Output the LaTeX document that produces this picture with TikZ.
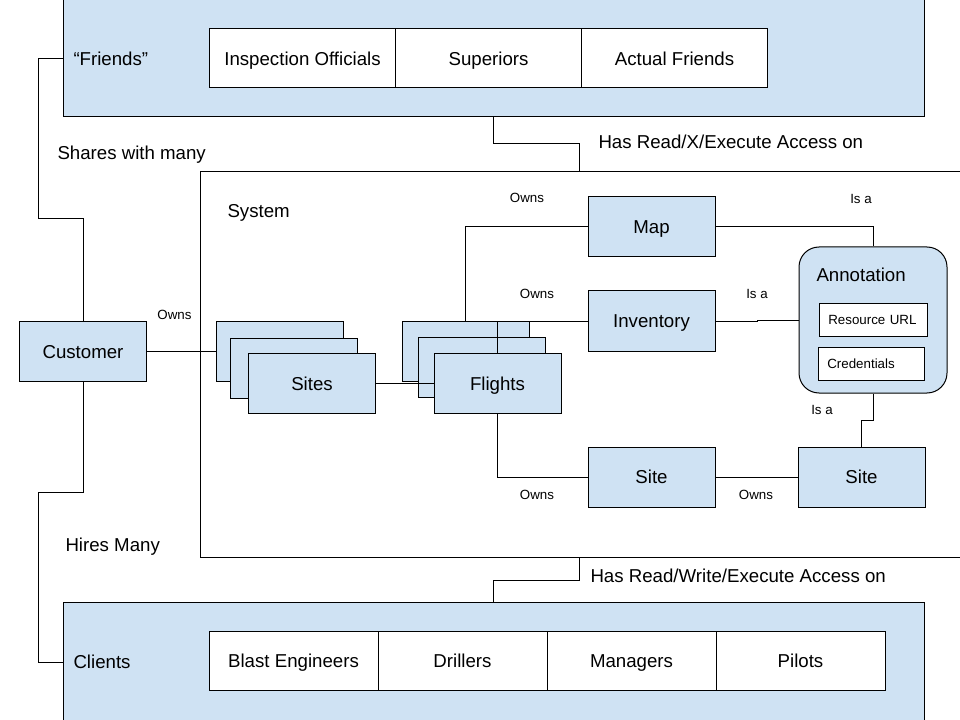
\documentclass[tikz,border=0pt]{standalone}
\usepackage{fontspec}
\setmainfont{Liberation Sans}
\usetikzlibrary{positioning}
\definecolor{paleblue}{HTML}{CFE2F3}
\begin{document}
\begin{tikzpicture}[x=0.75pt, y=-0.75pt, line width=0.75pt]

\tikzset{
    group/.style={draw, fill=paleblue, minimum width=645.75pt, inner sep=0pt},
    member/.style={draw, fill=white, minimum height=44.25pt, inner sep=0pt, outer sep=0pt, text height=11pt, text depth=1pt, font=\fontsize{14}{16}\selectfont},
    entity/.style={draw, fill=paleblue, minimum width=95.25pt, minimum height=45pt, inner sep=0pt, text height=11pt, text depth=1pt, font=\fontsize{14}{16}\selectfont},
    field/.style={draw, fill=white, inner xsep=7pt, inner ysep=0pt, minimum height=24.75pt, text height=8pt, text depth=1pt, align=left, font=\fontsize{10}{12}\selectfont},
    big/.style={inner sep=0pt, text height=11pt, text depth=1pt, font=\fontsize{14}{16}\selectfont},
    small/.style={inner sep=0pt, text height=8pt, text depth=1pt, font=\fontsize{10}{12}\selectfont}
}
\useasboundingbox (0,0) rectangle (960,720);

\node[group, minimum height=87.75pt] (friends) at (493.5,58.5) {};
\node[big, anchor=west] (friendslbl) at (73,59) {“Friends”};
\node[member, minimum width=139.5pt] (officials) at (302.5,58.5) {Inspection Officials};
\node[member, minimum width=139.5pt, right=0pt of officials] (superiors) {Superiors};
\node[member, minimum width=139.5pt, right=0pt of superiors] (actual) {Actual Friends};

\node[draw, minimum width=581.25pt, minimum height=288.75pt] (system) at (587.5,364.5) {};
\node[big, anchor=west] (systemlbl) at (227,211) {System};

\node[group, minimum height=90pt] (clients) at (493.5,662) {};
\node[big, anchor=west] (clientslbl) at (73,662) {Clients};
\node[member, minimum width=126.75pt] (blast) at (293.5,660.5) {Blast Engineers};
\node[member, minimum width=126.75pt, right=0pt of blast] (drillers) {Drillers};
\node[member, minimum width=126.75pt, right=0pt of drillers] (managers) {Managers};
\node[member, minimum width=126.75pt, right=0pt of managers] (pilots) {Pilots};

\node[entity] (customer) at (83,351.5) {Customer};

\node[entity] (sitesA) at (280,351.5) {};
\node[entity] (sitesB) at (293.5,368.5) {};
\node[entity] (sitesC) at (312,383.5) {Sites};
\node[entity] (flightsA) at (465.5,351.5) {};
\node[entity] (flightsB) at (482,367.5) {};
\node[entity] (flightsC) at (497.5,383.5) {Flights};

\node[entity] (map) at (651.5,226.5) {Map};
\node[entity] (inventory) at (651.5,321) {Inventory};
\node[entity] (site) at (651.5,477) {Site};
\node[entity] (siteR) at (861.5,477) {Site};

\node[draw, fill=paleblue, rounded corners=15pt, minimum width=111pt, minimum height=109.5pt] (annotation) at (873,320) {};
\node[big, anchor=west] (annotationlbl) at (816,275) {Annotation};
\node[field, text width=67pt] (resource) at (873,320) {Resource URL};
\node[field, text width=65.5pt] (credentials) at (871,364) {Credentials};

\draw (friends.west) -| (38,219) -| (customer.north);
\draw (customer.south) |- (38,492) |- (clients.west);
\draw (friends.south) |- (579,144) -- (579,144 |- system.north);
\draw (579,580 |- system.south) -- (579,580) -| (clients.north);
\draw (customer.east) -- (sitesA.west);
\draw (sitesC.east) -- (flightsC.west);
\draw (flightsA.north) |- (map.west);
\draw (flightsC.north) |- (inventory.west);
\draw (flightsC.south) |- (site.west);
\draw (map.east) -| (annotation.north);
\draw (inventory.east) -- ++(42,0) |- (annotation.west);
\draw (annotation.south) -- ++(0,27) -| (siteR.north);
\draw (site.east) -- (siteR.west);

\node[big, anchor=west] (shares) at (57,153) {Shares with many};
\node[big, anchor=west] (hires) at (65,545) {Hires Many};
\node[big, anchor=west] (readx) at (598,142) {Has Read/X/Execute Access on};
\node[big, anchor=west] (readwrite) at (590,576) {Has Read/Write/Execute Access on};
\node[small] (ownsSites) at (174.5,315) {Owns};
\node[small] (ownsMap) at (527,198) {Owns};
\node[small] (ownsInventory) at (537,294) {Owns};
\node[small] (ownsSite) at (537,495) {Owns};
\node[small] (ownsSiteR) at (756,495) {Owns};
\node[small] (isaMap) at (861,199) {Is a};
\node[small] (isaInventory) at (757,294) {Is a};
\node[small] (isaSite) at (822,410) {Is a};
\end{tikzpicture}
\end{document}
